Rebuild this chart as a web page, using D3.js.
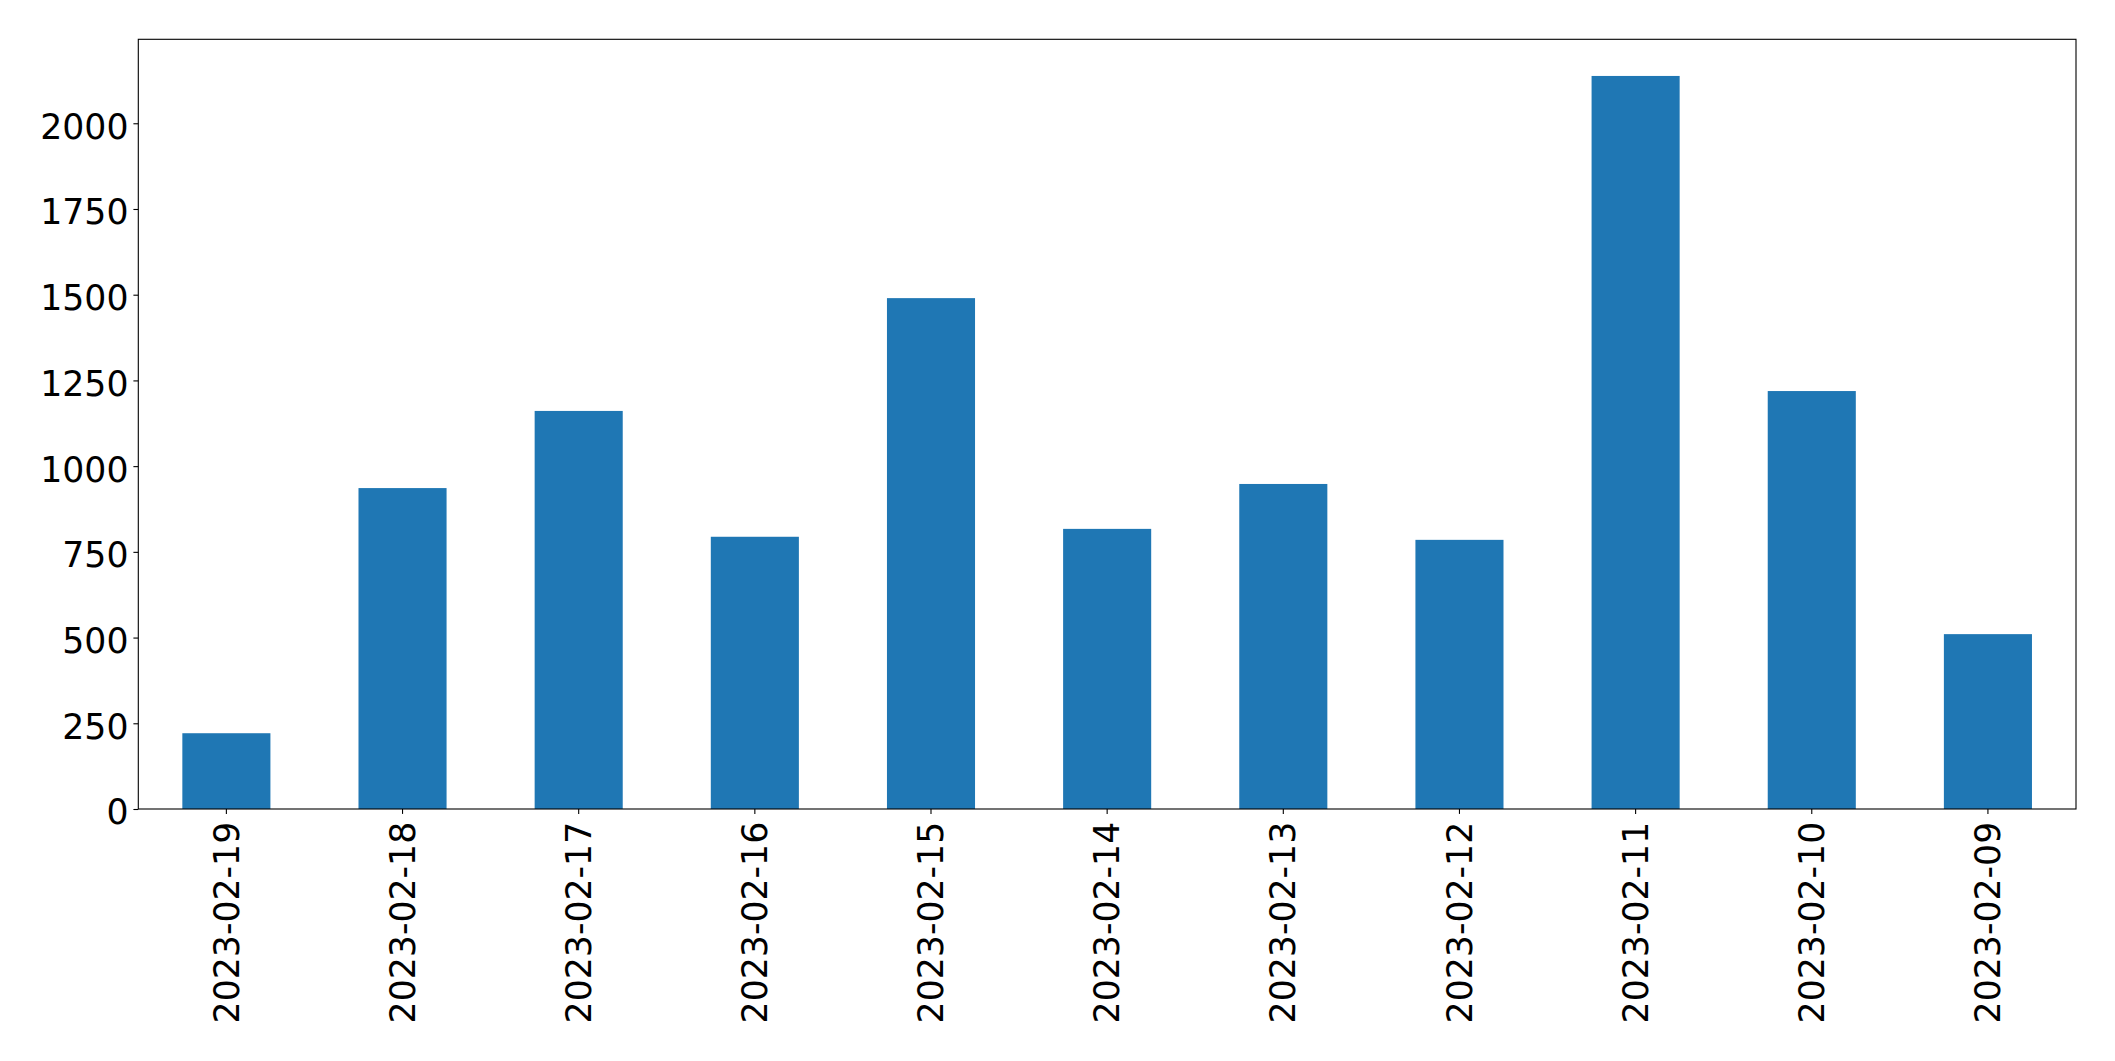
<!DOCTYPE html>
<html>
<head>
<meta charset="utf-8">
<script src="https://cdn.jsdelivr.net/npm/d3@7"></script>
<style>
html,body{margin:0;padding:0;background:#fff;}
svg{display:block;}
</style>
</head>
<body>
<svg id="chart" width="2115" height="1061"></svg>
<script>
const categories = ["2023-02-19","2023-02-18","2023-02-17","2023-02-16","2023-02-15","2023-02-14","2023-02-13","2023-02-12","2023-02-11","2023-02-10","2023-02-09"];
const values = [221, 936, 1161, 794, 1490, 817, 948, 785, 2138, 1219, 510];
const yTicks = [0, 250, 500, 750, 1000, 1250, 1500, 1750, 2000];

(function () {
const svg = d3.select("#chart");
const mLeft = 138.3, mRight = 2076, mTop = 39.3, mBottom = 809;
const fontSize = 34.7;

const x = d3.scaleBand().domain(categories).range([mLeft, mRight]).paddingInner(0.5).paddingOuter(0.25);
const y = d3.scaleLinear().domain([0, d3.max(values) * 1.05]).range([mBottom, mTop]);

svg.append("g").selectAll("rect").data(values).join("rect")
  .attr("x", (d, i) => x(categories[i]))
  .attr("y", d => y(d))
  .attr("width", x.bandwidth())
  .attr("height", d => y(0) - y(d))
  .attr("fill", "#1f77b4");

const yAxis = svg.append("g").attr("transform", `translate(${mLeft},0)`)
  .call(d3.axisLeft(y).tickValues(yTicks).tickFormat(d3.format("d")).tickSize(4.9).tickPadding(4.9));
const xAxis = svg.append("g").attr("transform", `translate(0,${mBottom})`)
  .call(d3.axisBottom(x).tickSize(4.9).tickPadding(4.9));

[yAxis, xAxis].forEach(g => {
  g.select(".domain").remove();
  g.selectAll(".tick line").attr("stroke", "#000").attr("stroke-width", 1.1);
  g.selectAll(".tick text").attr("fill", "#000")
    .style("font-family", "'DejaVu Sans', sans-serif").style("font-size", fontSize + "px");
});
yAxis.selectAll(".tick text").attr("dy", "0.43em");
xAxis.selectAll(".tick text")
  .attr("transform", "rotate(-90)")
  .attr("x", -(4.9 + 4.9 + 3))
  .attr("y", 0)
  .attr("dy", "0.35em")
  .attr("text-anchor", "end");

svg.append("rect")
  .attr("x", mLeft).attr("y", mTop)
  .attr("width", mRight - mLeft).attr("height", mBottom - mTop)
  .attr("fill", "none").attr("stroke", "#000").attr("stroke-width", 1.1);
})();
</script>
</body>
</html>
